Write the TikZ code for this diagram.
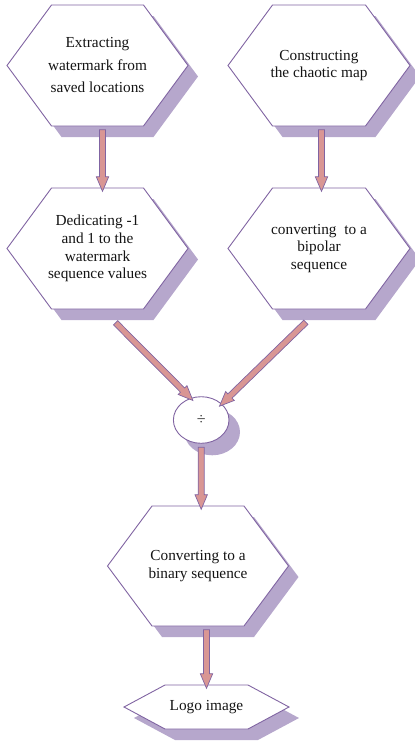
\documentclass[tikz,border=0pt]{standalone}
\usepackage{fontspec}
\setmainfont{Liberation Serif}
\usetikzlibrary{calc,shapes.geometric,shapes.arrows,shadows}
\definecolor{hexpurple}{RGB}{128,100,162}
\definecolor{hexshade}{RGB}{182,167,204}
\definecolor{arrowpink}{RGB}{217,150,148}
\definecolor{textdark}{RGB}{20,20,20}

\begin{document}
\begin{tikzpicture}[x=1pt, y=-1pt]
    % Style definitions
    \tikzset{
      hexline/.style={draw=hexpurple, fill=white, line width=0.9pt,
        drop shadow={shadow xshift=10pt, shadow yshift=-11pt, fill=hexshade, opacity=1}},
      hexlbl/.style={font=\fontsize{15.3}{17.7}\selectfont, text=textdark,
        align=center, inner sep=0pt},
      divnode/.style={ellipse, draw=hexpurple, fill=white, line width=0.9pt,
        minimum width=55.6pt, minimum height=46.6pt, inner sep=0pt,
        font=\fontsize{16}{17.7}\selectfont, text=black!85,
        drop shadow={shadow xshift=11pt, shadow yshift=-12pt, fill=hexshade, opacity=1}},
      flowarrow/.style={single arrow, draw=hexpurple, fill=arrowpink, line width=0.7pt,
        inner xsep=0pt, inner ysep=2.65pt, single arrow head extend=3.2pt,
        single arrow tip angle=46},
    }
    \useasboundingbox (0,0) rectangle (415,742);
    % ------------------------------------------------------------------
    % Helper macro: hexagon named #2 centred at #3, half width #4,
    % half height #5, corners set in by #6, holding the text #7
    % ------------------------------------------------------------------
    \newcommand{\hexnode}[7][]{%
      \begin{scope}[shift={#3}]
        \draw[hexline] (-#4,0) -- (-#4+#6,-#5) -- (#4-#6,-#5) -- (#4,0)
          -- (#4-#6,#5) -- (-#4+#6,#5) -- cycle;
      \end{scope}
      \node[hexlbl, minimum width={2*#4}, minimum height={2*#5}, #1] (#2) at #3 {#7};
    }
    % Helper macro: block arrow from #1 to #2
    \newcommand{\blockarrow}[2]{%
      \path let \p1=($(#2)-(#1)$), \n1={atan2(\y1,\x1)}, \n2={veclen(\x1,\y1)} in
        node[flowarrow, rotate=\n1, minimum height=\n2] at ($(#1)!0.5!(#2)$) {};
    }

    % Top row
    \hexnode[font=\fontsize{15.3}{22.5}\selectfont]{extract}{(97.5,65.5)}{90.5}{60.5}{44.5}
      {Extracting\\watermark from\\saved locations}
    \hexnode{chaos}{(319,65.5)}{91}{60.5}{44.5}{Constructing\\the chaotic map}

    % Second row
    \hexnode{dedicate}{(97.5,248.5)}{90.5}{60.5}{44.5}
      {Dedicating -1\\and 1 to the\\watermark\\sequence values}
    \hexnode{bipolar}{(319,248.5)}{91}{60.5}{44.5}{converting\ \ to a\\bipolar\\sequence}

    % Division of the two sequences
    \node[divnode] (divide) at (201.2,420) {÷};

    % Bottom part
    \hexnode{binary}{(198,566)}{90.5}{60}{44.5}{Converting to a\\binary sequence}
    \hexnode{logo}{(206.5,707)}{82.5}{22}{41}{Logo image}

    % Arrow end points
    \coordinate (extract-out) at ($(extract.south)+(5,0)$);
    \coordinate (dedicate-in) at ($(dedicate.north)+(5,0)$);
    \coordinate (chaos-out) at ($(chaos.south)+(2.5,0)$);
    \coordinate (bipolar-in) at ($(bipolar.north)+(2.5,0)$);
    \coordinate (dedicate-out) at ($(dedicate.south)+(15.5,11)$);
    \coordinate (bipolar-out) at ($(bipolar.south)+(-10.5,10.5)$);
    \coordinate (binary-in) at (divide.south |- binary.north);
    \coordinate (binary-out) at (logo.north |- binary.south);

    % Arrows
    \blockarrow{extract-out}{dedicate-in}
    \blockarrow{chaos-out}{bipolar-in}
    \blockarrow{dedicate-out}{divide.116}
    \blockarrow{bipolar-out}{divide.38}
    \blockarrow{divide.south}{binary-in}
    \blockarrow{binary-out}{logo.north}
\end{tikzpicture}
\end{document}
